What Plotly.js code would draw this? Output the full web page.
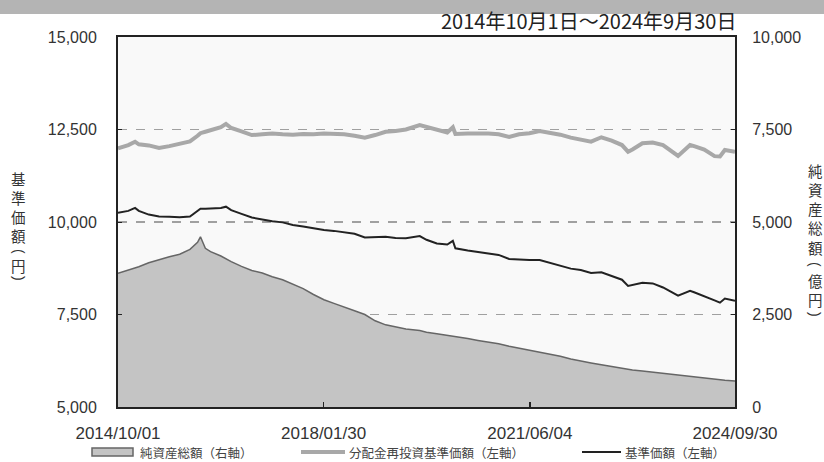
<!DOCTYPE html>
<html>
<head>
<meta charset="utf-8">
<script src="https://cdn.plot.ly/plotly-3.0.1.min.js"></script>
<style>html,body{margin:0;padding:0;background:#fff;}#chart{width:824px;height:462px;}</style>
</head>
<body>
<div id="chart"></div>
<script>
const dates = ["2014-10-01","2014-12-01","2015-01-10","2015-02-01","2015-04-01","2015-06-01","2015-08-01","2015-10-01","2015-12-01","2016-01-15","2016-02-01","2016-03-01","2016-04-01","2016-06-01","2016-07-01","2016-08-01","2016-10-01","2016-12-01","2017-02-01","2017-04-01","2017-06-01","2017-08-01","2017-10-01","2017-12-01","2018-02-01","2018-04-01","2018-06-01","2018-08-01","2018-10-01","2018-12-01","2019-02-01","2019-04-01","2019-06-01","2019-08-22","2019-10-01","2019-12-01","2020-02-01","2020-03-05","2020-03-20","2020-06-01","2020-08-01","2020-10-01","2020-12-01","2021-02-01","2021-04-01","2021-06-01","2021-08-01","2021-10-01","2021-12-01","2022-02-01","2022-04-01","2022-06-01","2022-08-01","2022-10-01","2022-12-01","2023-01-06","2023-02-01","2023-04-01","2023-06-01","2023-08-01","2023-10-29","2024-01-08","2024-02-01","2024-04-01","2024-06-01","2024-07-03","2024-08-01","2024-09-30"];

// 基準価額（左軸）
const nav = [10250,10300,10380,10300,10200,10150,10140,10130,10150,10300,10360,10360,10370,10380,10414,10320,10220,10120,10070,10020,9990,9920,9880,9830,9784,9760,9730,9680,9580,9590,9600,9570,9560,9620,9520,9420,9390,9490,9290,9230,9190,9140,9110,9000,8980,8975,8975,8900,8830,8740,8700,8620,8640,8530,8440,8270,8300,8360,8340,8230,8008,8143,8100,8000,7880,7820,7930,7870];

// 分配金再投資基準価額（左軸）
const navReinv = [11990,12080,12170,12100,12070,12000,12050,12110,12180,12330,12400,12440,12480,12560,12650,12540,12450,12350,12370,12390,12370,12360,12380,12370,12390,12380,12370,12330,12280,12350,12440,12460,12500,12620,12570,12480,12420,12560,12380,12390,12400,12390,12370,12300,12370,12400,12460,12420,12360,12280,12230,12170,12290,12200,12080,11900,11960,12130,12150,12080,11784,12080,12050,11960,11780,11770,11946,11900];

// 純資産総額（右軸, 億円）
const netAssets = [3614,3700,3750,3790,3900,3990,4060,4130,4260,4450,4600,4290,4200,4080,4000,3930,3800,3690,3620,3520,3440,3320,3200,3040,2900,2800,2690,2600,2500,2330,2220,2160,2110,2070,2020,1980,1940,1920,1900,1850,1800,1760,1710,1640,1590,1530,1480,1440,1370,1300,1240,1190,1140,1090,1040,1015,1000,970,940,910,860,820,800,780,750,740,725,705];

const xTickVals = ["2014-10-01","2018-01-30","2021-06-04","2024-09-30"];
const xTickText = ["2014/10/01","2018/01/30","2021/06/04","2024/09/30"];
const leftTicks = [5000,7500,10000,12500,15000];
const rightTicks = [0,2500,5000,7500,10000];
const seriesNames = ['純資産総額（右軸）','分配金再投資基準価額（左軸）','基準価額（左軸）'];
const leftTitleChars = ['基','準','価','額','(','円',')'];
const rightTitleChars = ['純','資','産','総','額','(','億','円',')'];
const titleText = '2014年10月1日～2024年9月30日';

const fontFam = "Liberation Sans, Arial, sans-serif";
const cjk = "Noto Sans CJK JP, sans-serif";

const areaFill = '#c4c4c4', areaLine = '#666666', greyLine = '#a8a8a8', blackLine = '#222222';

const traces = [
  {x: dates, y: netAssets, type: 'scatter', mode: 'lines', name: seriesNames[0],
   fill: 'tozeroy', fillcolor: areaFill, line: {color: areaLine, width: 1.5}, yaxis: 'y'},
  {x: dates, y: navReinv, type: 'scatter', mode: 'lines', name: seriesNames[1],
   line: {color: greyLine, width: 4}, yaxis: 'y2'},
  {x: dates, y: nav, type: 'scatter', mode: 'lines', name: seriesNames[2],
   line: {color: blackLine, width: 2}, yaxis: 'y2'}
];

// plot area in pixels: x 118..735, y 37..407
const px = v => (v - 118) / 617;
const py = v => (407 - v) / 370;

const annotations = [
  {xref: 'paper', yref: 'paper', x: px(738), y: py(20), xanchor: 'right', yanchor: 'middle', showarrow: false,
   text: titleText, font: {family: cjk, size: 20, color: '#222'}}
];
function vChar(c, x, y) {
  const isParen = (c === '(' || c === ')');
  return {xref: 'paper', yref: 'paper', x: px(x), y: py(y), xanchor: 'center', yanchor: 'middle',
    showarrow: false, text: c, textangle: isParen ? 90 : 0,
    font: {family: isParen ? fontFam : cjk, size: isParen ? 14 : 14.5, color: '#333'}};
}
const leftY = [178, 197, 216, 235, 252, 265, 279];
leftTitleChars.forEach((c, i) => annotations.push(vChar(c, 19, leftY[i])));
const rightY = [170, 189, 208, 227, 247, 264, 280, 299, 314];
rightTitleChars.forEach((c, i) => annotations.push(vChar(c, 815, rightY[i])));
// manual legend texts
const legY = 452;
[[138, seriesNames[0]], [347, seriesNames[1]], [623, seriesNames[2]]].forEach(([x, t]) =>
  annotations.push({xref: 'paper', yref: 'paper', x: px(x), y: py(legY), xanchor: 'left', yanchor: 'middle',
    showarrow: false, text: t, font: {family: cjk, size: 12.5, color: '#444'}}));

const shapes = [
  {type: 'rect', xref: 'paper', yref: 'paper', x0: -0.3, x1: 1.3, y0: py(14), y1: py(-5),
   fillcolor: '#b4b4b4', line: {width: 0}, layer: 'below'},
  {type: 'rect', xref: 'paper', yref: 'paper', x0: px(92), x1: px(133), y0: py(456), y1: py(448),
   fillcolor: areaFill, line: {color: areaLine, width: 1.5}},
  {type: 'line', xref: 'paper', yref: 'paper', x0: px(301), x1: px(345), y0: py(legY), y1: py(legY),
   line: {color: greyLine, width: 4}},
  {type: 'line', xref: 'paper', yref: 'paper', x0: px(582), x1: px(621), y0: py(legY), y1: py(legY),
   line: {color: blackLine, width: 2}}
];

const layout = {
  width: 824, height: 462,
  margin: {l: 118, r: 89, t: 37, b: 55},
  paper_bgcolor: '#ffffff', plot_bgcolor: '#f9f9f9',
  showlegend: false,
  xaxis: {type: 'date', range: ['2014-10-01','2024-09-30'], tickvals: xTickVals, ticktext: xTickText,
    ticks: 'inside', ticklen: 5, tickcolor: '#222', tickwidth: 1.5,
    showline: true, linecolor: '#222', linewidth: 2, mirror: true, showgrid: false, zeroline: false,
    tickfont: {family: fontFam, size: 17, color: '#333'}, ticklabelstandoff: 10},
  yaxis: {side: 'right', range: [0, 10000], tickvals: rightTicks, tickformat: ',d',
    ticks: 'inside', ticklen: 4, tickcolor: '#222', showline: true, linecolor: '#222', linewidth: 2,
    showgrid: true, gridcolor: '#a0a0a0', gridwidth: 1.5, griddash: 'dash', zeroline: false,
    tickfont: {family: fontFam, size: 16, color: '#333'}, ticklabelstandoff: 12},
  yaxis2: {side: 'left', overlaying: 'y', range: [5000, 15000], tickvals: leftTicks, tickformat: ',d',
    ticks: 'inside', ticklen: 4, tickcolor: '#222', showline: true, linecolor: '#222', linewidth: 2,
    showgrid: false, zeroline: false,
    tickfont: {family: fontFam, size: 16, color: '#333'}, ticklabelstandoff: 16},
  shapes: shapes,
  annotations: annotations
};

Plotly.newPlot('chart', traces, layout, {displayModeBar: false, staticPlot: true});
</script>
</body>
</html>
